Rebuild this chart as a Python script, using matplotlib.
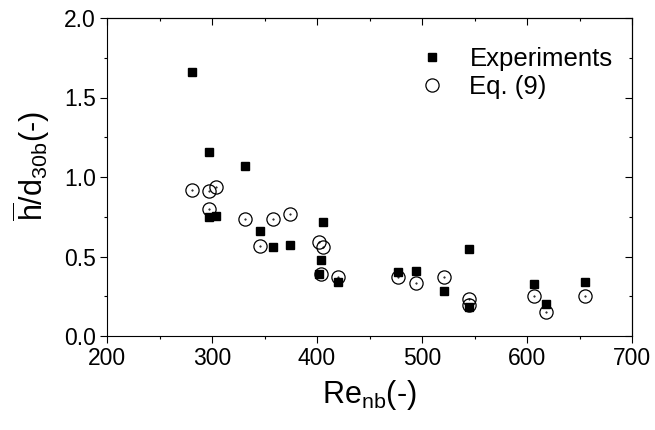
import matplotlib
matplotlib.use("Agg")
import matplotlib.pyplot as plt
from matplotlib.ticker import MultipleLocator

plt.rcParams['font.family'] = ['Liberation Sans', 'DejaVu Sans']
plt.rcParams['mathtext.fontset'] = 'custom'
plt.rcParams['mathtext.rm'] = 'Liberation Sans'
plt.rcParams['mathtext.it'] = 'Liberation Sans'

# Experiments
re_exp = [281, 297, 297, 304, 331, 346, 358, 374, 402, 404, 406, 420,
          477, 494, 521, 545, 545, 607, 618, 655]
h_exp = [1.66, 1.16, 0.75, 0.755, 1.07, 0.66, 0.56, 0.57, 0.39, 0.48, 0.72, 0.34,
         0.405, 0.41, 0.285, 0.547, 0.18, 0.327, 0.2, 0.34]

# Eq. (9)
re_eq = [281, 297, 297, 304, 331, 346, 358, 374, 402, 404, 406, 420,
         477, 494, 521, 545, 545, 607, 618, 655]
h_eq = [0.92, 0.914, 0.797, 0.935, 0.734, 0.564, 0.734, 0.77, 0.593, 0.388, 0.562, 0.369,
        0.373, 0.335, 0.373, 0.235, 0.195, 0.254, 0.153, 0.254]

fig = plt.figure(figsize=(6.55, 4.30), dpi=100)
ax = fig.add_axes([107/655, 94/430, 525/655, 318/430])

ax.plot(re_exp, h_exp, 's', color='black', markersize=6.3, linestyle='none',
        label='Experiments')
ax.plot(re_eq, h_eq, 'o', markerfacecolor='none', markeredgecolor='black',
        markeredgewidth=0.9, markersize=9.5, linestyle='none', label='Eq. (9)')
# tiny centre dots of the open circles
ax.plot(re_eq, h_eq, '.', color='black', markersize=1.0, linestyle='none')

ax.set_xlim(200, 700)
ax.set_ylim(0, 2.0)
ax.xaxis.set_major_locator(MultipleLocator(100))
ax.xaxis.set_minor_locator(MultipleLocator(50))
ax.yaxis.set_major_locator(MultipleLocator(0.5))
ax.yaxis.set_minor_locator(MultipleLocator(0.25))
ax.tick_params(which='both', direction='out', width=0.8, labelsize=16.5, pad=3)
ax.tick_params(which='major', length=5)
ax.tick_params(which='minor', length=2.5)
for s in ax.spines.values():
    s.set_linewidth(0.8)

top = ax.secondary_xaxis('top')
top.xaxis.set_major_locator(MultipleLocator(100))
top.xaxis.set_minor_locator(MultipleLocator(50))
top.tick_params(which='both', direction='in', width=0.8, labeltop=False)
top.tick_params(which='major', length=5)
top.tick_params(which='minor', length=2.5)
right = ax.secondary_yaxis('right')
right.yaxis.set_major_locator(MultipleLocator(0.5))
right.yaxis.set_minor_locator(MultipleLocator(0.25))
right.tick_params(which='both', direction='in', width=0.8, labelright=False)
right.tick_params(which='major', length=5)
right.tick_params(which='minor', length=2.5)

ax.set_xlabel(r'Re$_{\mathrm{nb}}$(-)', fontsize=22, labelpad=6)
ax.set_ylabel(r'$\overline{\mathrm{h}}$/d$_{\mathrm{30b}}$(-)', fontsize=22)
ax.yaxis.set_label_coords(-0.105, 0.535)

leg = ax.legend([ax.lines[0], ax.lines[1]], ['Experiments', 'Eq. (9)'],
                loc='upper left', bbox_to_anchor=(0.563, 0.957), frameon=False,
                fontsize=18.5, handlelength=1.1, handletextpad=0.9,
                labelspacing=0.15, borderaxespad=0.2)

fig.savefig('out.png', dpi=100)
